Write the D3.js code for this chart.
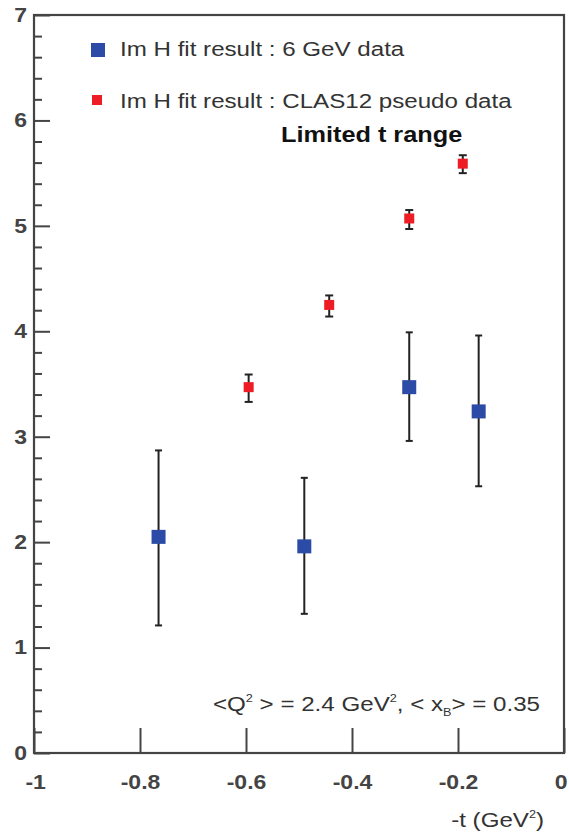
<!DOCTYPE html>
<html lang="en">
<head>
    <script src="https://d3js.org/d3.v7.min.js"></script>
    <style>
        body { margin: 0; background: #fff; }
        svg text { font-family: "Liberation Sans", Arial, sans-serif; }
    </style>
</head>
<body>
<script>
    // 6 GeV data fit (blue)
    const tBlue = [-0.765, -0.49, -0.292, -0.161];
    const imhBlue = [2.05, 1.96, 3.47, 3.24];
    const loBlue = [1.21, 1.32, 2.96, 2.53];
    const hiBlue = [2.87, 2.61, 3.99, 3.96];

    // CLAS12 pseudo data fit (red)
    const tRed = [-0.595, -0.443, -0.292, -0.191];
    const imhRed = [3.47, 4.25, 5.07, 5.59];
    const loRed = [3.33, 4.14, 4.97, 5.50];
    const hiRed = [3.59, 4.34, 5.15, 5.67];

    const xTicks = [-1, -0.8, -0.6, -0.4, -0.2, 0];
    const xTickLabels = ["-1", "-0.8", "-0.6", "-0.4", "-0.2", "0"];
    const yTicks = [0, 1, 2, 3, 4, 5, 6, 7];

    const W = 569, H = 835;
    const pLeft = 34, pRight = 564, pTop = 15, pBottom = 753;
    const sx = 1.15; // picture text is a bit stretched sideways

    const svg = d3.select("body").append("svg")
        .attr("width", W)
        .attr("height", H);

    const x = d3.scaleLinear().domain([-1, 0]).range([pLeft, pRight]);
    const y = d3.scaleLinear().domain([0, 7]).range([pBottom, pTop]);

    // minor y ticks
    const minor = d3.range(0, 7.01, 0.2).filter(v => Math.abs(v - Math.round(v)) > 0.01);
    svg.append("g")
        .attr("transform", "translate(" + pLeft + ",0)")
        .call(d3.axisLeft(y).tickValues(minor).tickSizeInner(-8).tickSizeOuter(0).tickFormat(""))
        .call(g => g.select(".domain").remove())
        .selectAll("line").attr("stroke", "#444").attr("stroke-width", 2);

    // major y ticks
    const yAxis = svg.append("g")
        .attr("transform", "translate(" + pLeft + ",0)")
        .call(d3.axisLeft(y).tickValues(yTicks).tickSizeInner(-16).tickSizeOuter(0).tickPadding(6).tickFormat(d3.format("d")))
        .call(g => g.select(".domain").remove());
    yAxis.selectAll("line").attr("stroke", "#444").attr("stroke-width", 2);
    yAxis.selectAll("text")
        .attr("transform", "scale(" + sx + ",1)")
        .style("font-size", "20px")
        .style("font-weight", "bold")
        .attr("fill", "#444");

    // x ticks
    const xAxis = svg.append("g")
        .attr("transform", "translate(0," + pBottom + ")")
        .call(d3.axisBottom(x).tickValues(xTicks).tickSizeInner(-25).tickSizeOuter(0).tickPadding(22)
            .tickFormat((d, i) => xTickLabels[i]))
        .call(g => g.select(".domain").remove());
    xAxis.selectAll("line").attr("stroke", "#444").attr("stroke-width", 2);
    xAxis.selectAll("text")
        .attr("transform", "scale(" + sx + ",1)")
        .attr("dx", d => d === 0 ? -3 : (d === -1 ? 1 : 0))
        .style("font-size", "20px")
        .style("font-weight", "bold")
        .attr("fill", "#444");

    // frame
    svg.append("rect")
        .attr("x", pLeft).attr("y", pTop)
        .attr("width", pRight - pLeft).attr("height", pBottom - pTop)
        .attr("fill", "none")
        .attr("stroke", "#444")
        .attr("stroke-width", 2.2);

    function errorBars(ts, vals, lo, hi, cap) {
        const g = svg.append("g").attr("stroke", "#222").attr("stroke-width", 2);
        ts.forEach((t, i) => {
            g.append("line").attr("x1", x(t)).attr("x2", x(t)).attr("y1", y(lo[i])).attr("y2", y(hi[i]));
            g.append("line").attr("x1", x(t) - cap).attr("x2", x(t) + cap).attr("y1", y(lo[i])).attr("y2", y(lo[i]));
            g.append("line").attr("x1", x(t) - cap).attr("x2", x(t) + cap).attr("y1", y(hi[i])).attr("y2", y(hi[i]));
        });
    }

    function squares(ts, vals, size, color) {
        svg.append("g").selectAll("rect")
            .data(ts)
            .enter()
            .append("rect")
            .attr("x", d => x(d) - size / 2)
            .attr("y", (d, i) => y(vals[i]) - size / 2)
            .attr("width", size)
            .attr("height", size)
            .attr("fill", color);
    }

    errorBars(tBlue, imhBlue, loBlue, hiBlue, 3.5);
    squares(tBlue, imhBlue, 14, "#2b4ba6");
    errorBars(tRed, imhRed, loRed, hiRed, 4);
    squares(tRed, imhRed, 10, "#ee1c24");

    function label(px, py, str, size, weight, anchor, color) {
        return svg.append("text")
            .attr("transform", "translate(" + px + "," + py + ") scale(" + sx + ",1)")
            .attr("text-anchor", anchor || "start")
            .style("font-size", size + "px")
            .style("font-weight", weight || "normal")
            .attr("fill", color || "#333")
            .text(str);
    }

    // legend
    svg.append("rect").attr("x", 91).attr("y", 43).attr("width", 14).attr("height", 14).attr("fill", "#2b4ba6");
    label(120, 56, "Im H fit result : 6 GeV data", 21);
    svg.append("rect").attr("x", 92).attr("y", 95).attr("width", 10).attr("height", 10).attr("fill", "#ee1c24");
    label(120, 108, "Im H fit result : CLAS12 pseudo data", 21);

    label(281, 142, "Limited t range", 22, "bold", "start", "#111");

    // kinematics note
    const note = label(213, 711, "", 21);
    note.append("tspan").text("<Q");
    note.append("tspan").attr("dy", -9).style("font-size", "11px").text("2");
    note.append("tspan").attr("dy", 9).text(" > = 2.4 GeV");
    note.append("tspan").attr("dy", -9).style("font-size", "11px").text("2");
    note.append("tspan").attr("dy", 9).text(", < x");
    note.append("tspan").attr("dy", 5).style("font-size", "11px").text("B");
    note.append("tspan").attr("dy", -5).text("> = 0.35");

    // axis title
    const xt = label(544, 827, "", 21, "normal", "end");
    xt.append("tspan").text("-t (GeV");
    xt.append("tspan").attr("dy", -9).style("font-size", "11px").text("2");
    xt.append("tspan").attr("dy", 9).text(")");
</script>
</body>
</html>
